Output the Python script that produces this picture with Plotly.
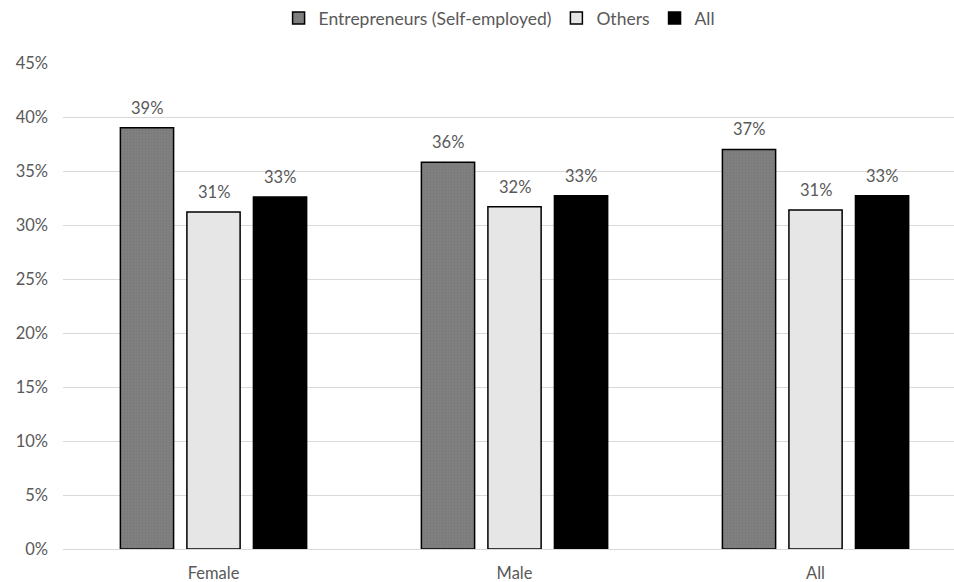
import plotly.graph_objects as go

categories = ["Female", "Male", "All"]
entrepreneurs = [0.390, 0.358, 0.370]
others = [0.312, 0.317, 0.314]
all_vals = [0.326, 0.327, 0.327]
series_names = ["Entrepreneurs (Self-employed)", "Others", "All"]
y_ticks = [0, 0.05, 0.10, 0.15, 0.20, 0.25, 0.30, 0.35, 0.40, 0.45]
y_tick_labels = ["0%", "5%", "10%", "15%", "20%", "25%", "30%", "35%", "40%", "45%"]

font_family = "Lato, 'Open Sans', sans-serif"
text_color = "#595959"
bargap = 0.337
bargroupgap = 0.2

series_values = [entrepreneurs, others, all_vals]
series_styles = [
    dict(color="#808080", line=dict(color="#000000", width=1.5),
         pattern=dict(shape=".", fgcolor="#707070", size=3, solidity=0.3)),
    dict(color="#e6e6e6", line=dict(color="#000000", width=1.5)),
    dict(color="#000000", line=dict(color="#000000", width=1.5)),
]

fig = go.Figure()
for name, vals, style in zip(series_names, series_values, series_styles):
    fig.add_trace(go.Bar(name=name, x=categories, y=vals, marker=style))

# data labels above each bar
slot = (1 - bargap) / len(series_values)
annotations = []
for i, vals in enumerate(series_values):
    offset = (i - (len(series_values) - 1) / 2) * slot
    for j, v in enumerate(vals):
        annotations.append(dict(
            x=j + offset, y=v, xref="x", yref="y",
            text=f"{round(v * 100):d}%", showarrow=False,
            yanchor="bottom", yshift=8,
            font=dict(size=16.5, color=text_color, family=font_family),
        ))

fig.update_layout(
    width=954, height=582,
    margin=dict(l=63, r=0, t=63, b=33, autoexpand=False),
    paper_bgcolor="white", plot_bgcolor="white",
    barmode="group", bargap=bargap, bargroupgap=bargroupgap,
    font=dict(family=font_family, color=text_color, size=16.5),
    legend=dict(orientation="h", x=0.49, xanchor="center",
                yref="container", y=1.0, yanchor="top",
                font=dict(size=17.5, color=text_color),
                traceorder="normal", itemwidth=30),
    showlegend=True,
    annotations=annotations,
)
fig.update_xaxes(range=[-0.5, 2.46], showline=False, showgrid=False, ticks="",
                 ticklabelstandoff=12,
                 tickfont=dict(size=16.5, color=text_color))
fig.update_yaxes(range=[0, 0.45], tickvals=y_ticks, ticktext=y_tick_labels,
                 showgrid=True, gridcolor="#d9d9d9", gridwidth=1.2,
                 zeroline=True, zerolinecolor="#d9d9d9", zerolinewidth=1.2,
                 showline=False, ticks="", ticklabelstandoff=14,
                 tickfont=dict(size=16.5, color=text_color))

fig.write_html("out.html")
